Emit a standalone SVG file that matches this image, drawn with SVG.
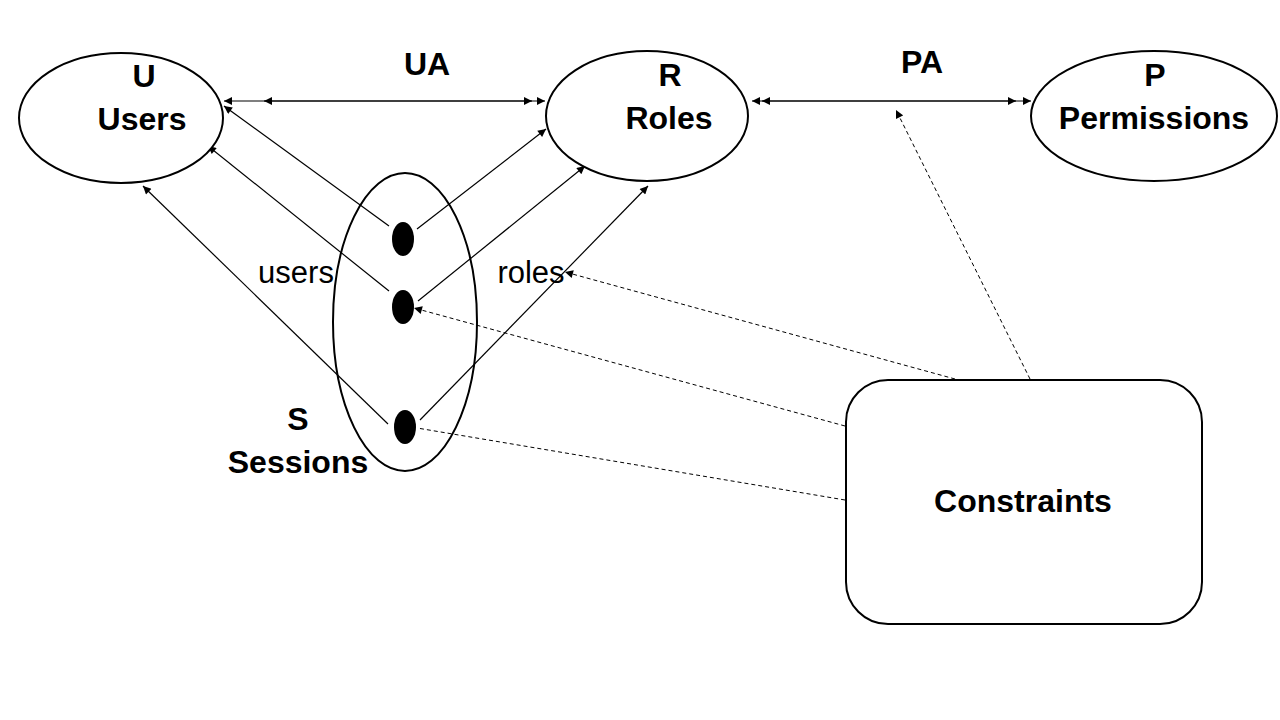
<svg xmlns="http://www.w3.org/2000/svg" width="1280" height="720" viewBox="0 0 1280 720">
<defs>
<style>
.node{fill:#fff;stroke:#000;stroke-width:2}
.dot{fill:#000;stroke:none}
.b{font-family:"Liberation Sans",Arial,sans-serif;font-weight:bold;font-size:32px;fill:#000;text-anchor:middle}
.r{font-family:"Liberation Sans",Arial,sans-serif;font-size:31px;fill:#000;text-anchor:middle}
.ln{stroke:#000;stroke-width:1.2;fill:none}
.da{stroke:#000;stroke-width:1;fill:none;stroke-dasharray:4 3}
</style>
<marker id="ah" viewBox="0 0 10 10" refX="10" refY="5" markerWidth="10" markerHeight="8" markerUnits="userSpaceOnUse" orient="auto-start-reverse">
<path d="M0,0 L10,5 L0,10 Z" fill="#000"/>
</marker>
</defs>
<rect width="1280" height="720" fill="#fff"/>
<g id="connectors">
<line class="ln" x1="224" y1="101" x2="545" y2="101" marker-start="url(#ah)" marker-end="url(#ah)"/>
<line class="ln" x1="264" y1="101" x2="532" y2="101" marker-start="url(#ah)" marker-end="url(#ah)"/>
<line class="ln" x1="752" y1="101" x2="1031" y2="101" marker-start="url(#ah)" marker-end="url(#ah)"/>
<line class="ln" x1="762" y1="101" x2="1016" y2="101" marker-start="url(#ah)" marker-end="url(#ah)"/>
<line class="ln" x1="389" y1="226" x2="224" y2="106" marker-end="url(#ah)"/>
<line class="ln" x1="417" y1="229" x2="546" y2="129" marker-end="url(#ah)"/>
<line class="ln" x1="389" y1="291" x2="208" y2="146" marker-end="url(#ah)"/>
<line class="ln" x1="418" y1="301" x2="585" y2="166" marker-end="url(#ah)"/>
<line class="ln" x1="388" y1="424" x2="143" y2="186" marker-end="url(#ah)"/>
<line class="ln" x1="420" y1="420" x2="648" y2="186" marker-end="url(#ah)"/>
<line class="da" x1="955" y1="379" x2="565" y2="272" marker-end="url(#ah)"/>
<line class="da" x1="845" y1="426" x2="414" y2="308" marker-end="url(#ah)"/>
<line class="da" x1="845" y1="500" x2="417" y2="428"/>
<line class="da" x1="1030" y1="379" x2="896" y2="110" marker-end="url(#ah)"/>
</g>
<g id="users">
<ellipse class="node" cx="121" cy="118" rx="102" ry="65"/>
<text class="b" x="144" y="87">U</text>
<text class="b" x="142" y="130">Users</text>
</g>
<g id="roles">
<ellipse class="node" cx="647" cy="116" rx="101" ry="65"/>
<text class="b" x="670" y="86">R</text>
<text class="b" x="669" y="129">Roles</text>
</g>
<g id="permissions">
<ellipse class="node" cx="1154" cy="116" rx="123" ry="65"/>
<text class="b" x="1155" y="86">P</text>
<text class="b" x="1154" y="129">Permissions</text>
</g>
<g id="sessions">
<ellipse class="node" cx="405" cy="322" rx="72" ry="149" style="fill:none"/>
<ellipse class="dot" cx="403" cy="239" rx="11" ry="17"/>
<ellipse class="dot" cx="403" cy="307" rx="11" ry="17"/>
<ellipse class="dot" cx="405" cy="427" rx="11" ry="17"/>
<text class="b" x="298" y="430">S</text>
<text class="b" x="298" y="473">Sessions</text>
</g>
<g id="constraints">
<rect class="node" x="846" y="380" width="356" height="244" rx="42" ry="42"/>
<text class="b" x="1023" y="512">Constraints</text>
</g>
<g id="labels">
<text class="b" x="427" y="75">UA</text>
<text class="b" x="922" y="73">PA</text>
<text class="r" x="296" y="283">users</text>
<text class="r" x="531" y="283">roles</text>
</g>
</svg>
